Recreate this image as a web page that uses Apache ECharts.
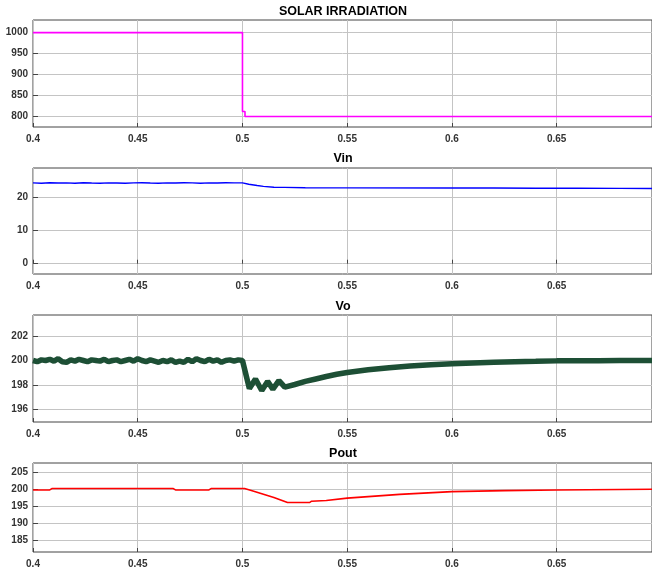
<!DOCTYPE html>
<html>
<head>
<meta charset="utf-8">
<title>Solar irradiation step response</title>
<script src="https://cdn.jsdelivr.net/npm/echarts@6/dist/echarts.min.js"></script>
<style>
  html, body { margin: 0; padding: 0; background: #fff; }
  #chart { width: 652px; height: 571px; }
</style>
</head>
<body>
<div id="chart"></div>
<script>
// x ticks shared by all panels
const xTicks = [0.4, 0.45, 0.5, 0.55, 0.6, 0.65];

// panel titles
const titles = ['SOLAR IRRADIATION', 'Vin', 'Vo', 'Pout'];

// y ticks per panel
const irrTicks = [800, 850, 900, 950, 1000];
const vinTicks = [0, 10, 20];
const voTicks = [196, 198, 200, 202];
const poutTicks = [185, 190, 195, 200, 205];

// solar irradiation (W/m2)
const irrTime = [0.4, 0.5, 0.5, 0.5012, 0.5012, 0.6955];
const irrValue = [1000, 1000, 812, 812, 800, 800];

// input voltage (V)
const vinTime = [0.4, 0.404, 0.408, 0.412, 0.416, 0.42, 0.424, 0.428, 0.432, 0.436, 0.44, 0.444, 0.448,
  0.452, 0.456, 0.46, 0.464, 0.468, 0.472, 0.476, 0.48, 0.484, 0.488, 0.492, 0.496, 0.5,
  0.503, 0.507, 0.51, 0.515, 0.52, 0.53, 0.55, 0.6, 0.62, 0.64, 0.66, 0.68, 0.6955];
const vinValue = [24.4, 24.3, 24.45, 24.35, 24.4, 24.3, 24.45, 24.35, 24.3, 24.4, 24.35, 24.3, 24.4,
  24.45, 24.35, 24.3, 24.4, 24.35, 24.45, 24.4, 24.3, 24.4, 24.35, 24.45, 24.4, 24.4,
  24.0, 23.6, 23.35, 23.1, 23.05, 22.95, 22.9, 22.85, 22.85, 22.8, 22.8, 22.75, 22.7];

// output voltage (V)
const voTime = [0.4, 0.402, 0.404, 0.406, 0.408, 0.41, 0.412, 0.414, 0.416, 0.418, 0.42, 0.422, 0.424,
  0.426, 0.428, 0.43, 0.432, 0.434, 0.436, 0.438, 0.44, 0.442, 0.444, 0.446, 0.448, 0.45,
  0.452, 0.454, 0.456, 0.458, 0.46, 0.462, 0.464, 0.466, 0.468, 0.47, 0.472, 0.474, 0.476,
  0.478, 0.48, 0.482, 0.484, 0.486, 0.488, 0.49, 0.492, 0.494, 0.496, 0.498, 0.5,
  0.5033, 0.5062, 0.5092, 0.512, 0.5145, 0.5174, 0.5202, 0.525, 0.53, 0.535, 0.54, 0.545,
  0.55, 0.56, 0.57, 0.58, 0.59, 0.6, 0.61, 0.62, 0.63, 0.64, 0.65, 0.66, 0.67, 0.68, 0.69, 0.6955];
const voValue = [200.0, 199.9, 200.05, 200.0, 200.1, 199.95, 200.15, 199.9, 199.85, 200.05, 199.95, 200.1, 200.0,
  199.9, 200.05, 200.0, 199.95, 200.1, 199.9, 200.0, 200.05, 199.9, 200.0, 200.1, 199.95, 200.15,
  200.0, 199.9, 200.05, 199.95, 199.85, 200.0, 199.9, 200.05, 199.85, 199.95, 199.85, 200.1, 199.9,
  200.15, 200.0, 199.9, 200.1, 199.95, 200.05, 199.85, 200.0, 200.05, 199.95, 200.05, 200.0,
  197.72, 198.5, 197.56, 198.3, 197.67, 198.37, 197.84, 198.05, 198.3, 198.5, 198.7, 198.88,
  199.03, 199.25, 199.42, 199.55, 199.65, 199.73, 199.8, 199.85, 199.9, 199.93, 199.97, 199.98, 199.99, 200.0, 200.0, 200.0];

// output power
const poutTime = [0.4, 0.408, 0.409, 0.467, 0.468, 0.484, 0.485, 0.501, 0.505, 0.515, 0.5215,
  0.532, 0.533, 0.54, 0.55, 0.575, 0.6, 0.625, 0.65, 0.6955];
const poutValue = [199.8, 199.8, 200.2, 200.2, 199.8, 199.8, 200.2, 200.2, 199.5, 197.6, 196.1,
  196.1, 196.5, 196.7, 197.4, 198.5, 199.3, 199.6, 199.8, 200.0];

const zip = (xs, ys) => xs.map((x, i) => [x, ys[i]]);

const gridTops = [20, 168, 315, 463];
const gridHeights = [107, 106, 107, 89];
const titleY = [12, 159, 307, 454];
const yRanges = [[775, 1030], [-3.1, 28.9], [195, 203.7], [181.6, 207.7]];
const yTickSets = [irrTicks, vinTicks, voTicks, poutTicks];
const seriesData = [zip(irrTime, irrValue), zip(vinTime, vinValue), zip(voTime, voValue), zip(poutTime, poutValue)];
const colors = ['#ff00ff', '#0000ff', '#1d4f35', '#ff0000'];
const widths = [1.6, 1.4, 5.5, 1.6];

const labelStyle = {
  fontFamily: 'Liberation Sans, Arial, sans-serif',
  fontSize: 10,
  fontWeight: 'bold',
  color: '#333',
  formatter: v => String(v)
};
const gridLine = { show: true, lineStyle: { color: '#c4c4c4', width: 1 } };

const chart = echarts.init(document.getElementById('chart'));

const option = {
  animation: false,
  backgroundColor: '#fff',
  graphic: titles.map((t, i) => ({
    type: 'text',
    x: 343,
    y: titleY[i],
    style: {
      text: t,
      textAlign: 'center',
      textVerticalAlign: 'middle',
      font: 'bold 12.5px "Liberation Sans", Arial, sans-serif',
      fill: '#000'
    }
  })),
  grid: gridTops.map((top, i) => ({
    left: 33,
    right: -1,
    top: top,
    height: gridHeights[i],
    show: true,
    borderColor: '#444',
    borderWidth: 1,
    containLabel: false
  })),
  xAxis: gridTops.map((_, i) => ({
    type: 'value',
    gridIndex: i,
    min: 0.4,
    max: 0.6955,
    axisLine: { show: false },
    axisTick: { show: true, inside: true, length: 4, lineStyle: { color: '#444' }, customValues: xTicks },
    axisLabel: Object.assign({ margin: 7, customValues: xTicks }, labelStyle),
    splitLine: gridLine
  })),
  yAxis: gridTops.map((_, i) => ({
    type: 'value',
    gridIndex: i,
    min: yRanges[i][0],
    max: yRanges[i][1],
    axisLine: { show: false },
    axisTick: { show: true, inside: true, length: 5, lineStyle: { color: '#444' }, customValues: yTickSets[i] },
    axisLabel: Object.assign({ margin: 5, customValues: yTickSets[i] }, labelStyle),
    splitLine: gridLine
  })),
  series: seriesData.map((d, i) => ({
    type: 'line',
    xAxisIndex: i,
    yAxisIndex: i,
    data: d,
    showSymbol: false,
    smooth: false,
    lineStyle: { color: colors[i], width: widths[i] },
    clip: true
  }))
};

chart.setOption(option);
</script>
</body>
</html>
